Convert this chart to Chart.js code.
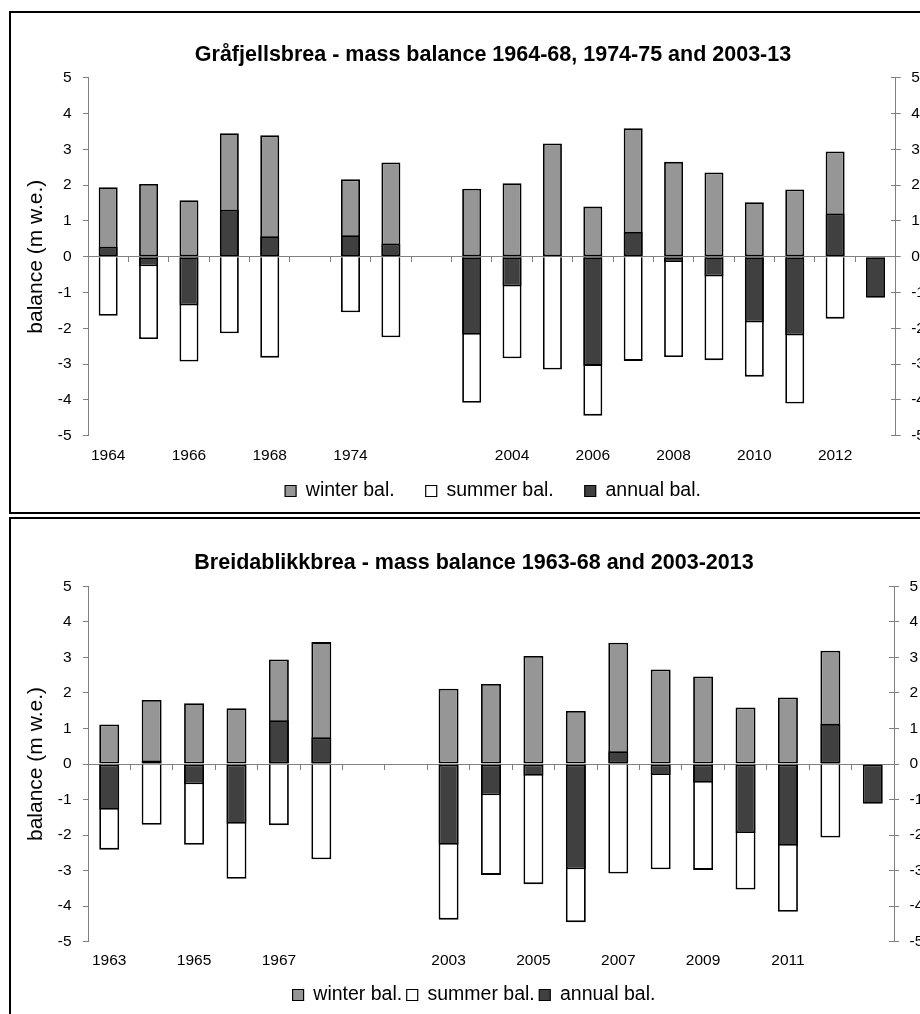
<!DOCTYPE html>
<html>
<head>
<meta charset="utf-8">
<title>Mass balance – Gråfjellsbrea and Breidablikkbrea</title>
<script src="https://cdn.jsdelivr.net/npm/chart.js@4.4.1/dist/chart.umd.min.js"></script>
<style>
  html, body { margin: 0; padding: 0; background: #fff; overflow: hidden; width: 920px; height: 1014px; }
  .panel { position: absolute; left: 9px; width: 1000px; border: 2px solid #000; overflow: hidden; background: #fff; }
  #panelTop { top: 11px; height: 499px; }
  #panelBottom { top: 517px; height: 520px; }
  canvas { position: absolute; left: 0; top: 0; }
</style>
</head>
<body>
<div class="panel" id="panelTop"><canvas id="chartTop" width="964" height="499"></canvas></div>
<div class="panel" id="panelBottom"><canvas id="chartBottom" width="926" height="500"></canvas></div>
<script>
Chart.defaults.font.family = '"Liberation Sans", Arial, Helvetica, sans-serif';
Chart.defaults.color = '#000';

// ---- Gråfjellsbrea (m w.e.) ----
const grafjellYears = ['1964', '1965', '1966', '1967', '1968', '', '1974', '1975', '',
  '2003', '2004', '2005', '2006', '2007', '2008', '2009', '2010', '2011', '2012', '2013'];
const grafjellTickLabels = ['1964', '', '1966', '', '1968', '', '1974', '', '', '',
  '2004', '', '2006', '', '2008', '', '2010', '', '2012', ''];
const grafjellWinter = [1.94, 2.03, 1.58, 3.45, 3.39, null, 2.16, 2.63, null,
  1.90, 2.05, 3.16, 1.40, 3.59, 2.65, 2.35, 1.52, 1.88, 2.94, null];
const grafjellSummer = [-1.65, -2.30, -2.93, -2.14, -2.82, null, -1.55, -2.25, null,
  -4.08, -2.84, -3.15, -4.44, -2.91, -2.80, -2.89, -3.35, -4.10, -1.73, null];
const grafjellAnnual = [0.28, -0.27, -1.36, 1.31, 0.57, null, 0.60, 0.37, null,
  -2.18, -0.83, 0.01, -3.05, 0.69, -0.15, -0.55, -1.84, -2.20, 1.21, -1.15];

// ---- Breidablikkbrea (m w.e.) ----
const breidaYears = ['1963', '1964', '1965', '1966', '1967', '1968', '', '',
  '2003', '2004', '2005', '2006', '2007', '2008', '2009', '2010', '2011', '2012', '2013'];
const breidaTickLabels = ['1963', '', '1965', '', '1967', '', '', '',
  '2003', '', '2005', '', '2007', '', '2009', '', '2011', '', ''];
const breidaWinter = [1.11, 1.80, 1.71, 1.57, 2.94, 3.43, null, null,
  2.12, 2.25, 3.04, 1.49, 3.41, 2.66, 2.46, 1.59, 1.87, 3.19, null];
const breidaSummer = [-2.41, -1.71, -2.27, -3.23, -1.72, -2.68, null, null,
  -4.38, -3.12, -3.38, -4.45, -3.08, -2.96, -2.98, -3.53, -4.16, -2.07, null];
const breidaAnnual = [-1.29, 0.10, -0.57, -1.68, 1.23, 0.75, null, null,
  -2.27, -0.88, -0.33, -2.96, 0.36, -0.31, -0.53, -1.94, -2.30, 1.13, -1.12];

const AXIS_GREY = '#808080';
const TICK_FONT = { size: 15.5 };

// Year labels sit in the band shared with the legend, so let them draw unclipped.
const unclipYearLabels = {
  id: 'unclipYearLabels',
  afterLayout(chart) {
    const sx = chart.scales.x;
    if (sx) { sx._computeLabelArea = () => undefined; }
  }
};

function balanceChart(canvasId, spec) {
  const bars = [
    { label: 'winter bal.', data: spec.winter, backgroundColor: '#969696', order: 2, borderSkipped: false },
    { label: 'summer bal.', data: spec.summer, backgroundColor: '#ffffff', order: 1, borderSkipped: 'start' },
    { label: 'annual bal.', data: spec.annual, backgroundColor: '#404040', order: 0, borderSkipped: false }
  ].map(ds => Object.assign(ds, {
    xAxisID: 'x', yAxisID: 'y',
    borderColor: '#000', borderWidth: 1.8,
    grouped: false, categoryPercentage: 1, barPercentage: 0.47
  }));

  const valueAxis = {
    type: 'linear', min: -5, max: 5,
    grid: { drawOnChartArea: false, drawTicks: true, tickLength: 5, color: AXIS_GREY },
    border: { display: true, color: AXIS_GREY, width: 1 }
  };

  return new Chart(document.getElementById(canvasId), {
    type: 'bar',
    data: { labels: spec.years, datasets: bars },
    plugins: [unclipYearLabels],
    options: {
      responsive: false,
      animation: false,
      events: [],
      layout: { padding: { top: 0, left: 0, right: 0, bottom: spec.padBottom } },
      plugins: {
        tooltip: { enabled: false },
        title: {
          display: true, text: spec.title, color: '#000',
          font: { size: 21.5, weight: 'bold' },
          padding: { top: spec.titleTop, bottom: spec.titleBottom }
        },
        legend: {
          position: 'bottom',
          labels: {
            boxWidth: 11, boxHeight: 11, padding: spec.legendGap,
            font: { size: 19.5 }, color: '#000',
            sort: (a, b) => a.datasetIndex - b.datasetIndex,
            generateLabels(chart) {
              const items = Chart.defaults.plugins.legend.labels.generateLabels(chart);
              items.forEach(it => { it.lineWidth = 1.2; it.strokeStyle = '#000'; });
              return items;
            }
          }
        }
      },
      scales: {
        // category labels along the bottom edge
        x: {
          type: 'category', position: 'bottom', offset: true,
          grid: { display: false, drawTicks: false },
          border: { display: false },
          ticks: {
            autoSkip: false, maxRotation: 0, minRotation: 0,
            padding: spec.xLabelPad, font: TICK_FONT, color: '#000',
            callback: (v, i) => spec.tickLabels[i]
          },
          afterFit: s => { s.height = spec.xAxisHeight; }
        },
        // category axis line crossing at zero, with boundary tick marks
        xZero: {
          type: 'category', axis: 'x', position: { y: 0 }, offset: true,
          grid: { offset: true, drawOnChartArea: false, drawTicks: true, tickLength: 5, color: AXIS_GREY },
          border: { display: true, color: AXIS_GREY, width: 1 },
          ticks: { display: false }
        },
        y: Object.assign({}, valueAxis, {
          position: 'left',
          ticks: { stepSize: 1, padding: 11.5, font: TICK_FONT, color: '#000' },
          title: {
            display: true, text: 'balance (m w.e.)', color: '#000',
            font: { size: 21 }, padding: { top: 12.4, bottom: 0 }
          },
          afterFit: s => { s.width = 77; }
        }),
        yRight: Object.assign({}, valueAxis, {
          position: 'right',
          ticks: { stepSize: 1, padding: 10.5, font: TICK_FONT, color: '#000' },
          afterFit: s => { s.width = spec.rightWidth; }
        }),
        // inner half of the cross tick marks on the right axis
        yRightIn: Object.assign({}, valueAxis, {
          axis: 'y', position: { x: spec.years.length - 0.5 },
          border: { display: false },
          ticks: { display: false, stepSize: 1 }
        })
      }
    }
  });
}

balanceChart('chartTop', {
  title: 'Gråfjellsbrea - mass balance 1964-68, 1974-75 and 2003-13',
  years: grafjellYears, tickLabels: grafjellTickLabels,
  winter: grafjellWinter, summer: grafjellSummer, annual: grafjellAnnual,
  titleTop: 28.8, titleBottom: 10.1,
  xLabelPad: 10.8, xAxisHeight: 14.55,
  legendGap: 31, padBottom: 1.25,
  rightWidth: 79.3
});

balanceChart('chartBottom', {
  title: 'Breidablikkbrea - mass balance 1963-68 and 2003-2013',
  years: breidaYears, tickLabels: breidaTickLabels,
  winter: breidaWinter, summer: breidaSummer, annual: breidaAnnual,
  titleTop: 31.4, titleBottom: 10.1,
  xLabelPad: 9.8, xAxisHeight: 39.05,
  legendGap: 4.5, padBottom: 4.25,
  rightWidth: 43
});
</script>
</body>
</html>
